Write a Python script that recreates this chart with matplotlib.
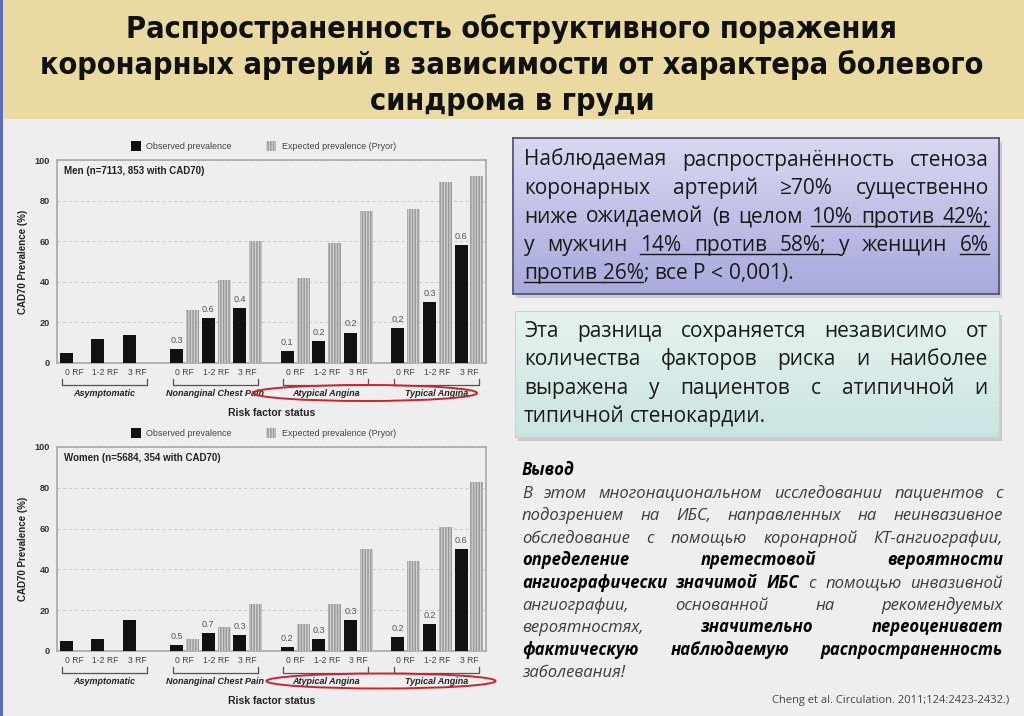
import matplotlib
matplotlib.use("Agg")
import matplotlib.pyplot as plt
from matplotlib import font_manager
from matplotlib.colors import to_rgb
from matplotlib.lines import Line2D
from matplotlib.patches import Rectangle, Ellipse, Patch
import numpy as np

W, H = 1024, 716
BG = "#eeeeee"

# --- chart data ---
groups = ["Asymptomatic", "Nonanginal Chest Pain", "Atypical Angina", "Typical Angina"]
rf_labels = ["0 RF", "1-2 RF", "3 RF"]

men_observed = [5, 12, 14, 7, 22, 27, 6, 11, 15, 17, 30, 58]
men_expected = [None, None, None, 26, 41, 60, 42, 59, 75, 76, 89, 92]
men_ratio = ["", "", "", "0.3", "0.6", "0.4", "0.1", "0.2", "0.2", "0.2", "0.3", "0.6"]

women_observed = [5, 6, 15, 3, 9, 8, 2, 6, 15, 7, 13, 50]
women_expected = [None, None, None, 6, 12, 23, 13, 23, 50, 44, 61, 83]
women_ratio = ["", "", "", "0.5", "0.7", "0.3", "0.2", "0.3", "0.3", "0.2", "0.2", "0.6"]

men_title = "Men (n=7113, 853 with CAD70)"
women_title = "Women (n=5684, 354 with CAD70)"

# --- slide text ---
title_lines = ["Распространенность обструктивного поражения",
               "коронарных артерий в зависимости от характера болевого",
               "синдрома в груди"]

# markup: _ underline, ~ underline the gap after, * bold, + join to previous word
box1_lines = ["Наблюдаемая распространённость стеноза",
              "коронарных артерий ≥70% существенно",
              "ниже ожидаемой (в целом _10%~ _против~ _42%;",
              "у мужчин _14%~ _против~ _58%;~ у женщин _6%",
              "_против~ _26% +; все P < 0,001)."]
box2_lines = ["Эта разница сохраняется независимо от",
              "количества факторов риска и наиболее",
              "выражена у пациентов с атипичной и",
              "типичной стенокардии."]
concl_head = "Вывод"
concl_lines = ["В этом многонациональном исследовании пациентов с",
               "подозрением на ИБС, направленных на неинвазивное",
               "обследование с помощью коронарной КТ-ангиографии,",
               "*определение *претестовой *вероятности",
               "*ангиографически *значимой *ИБС с помощью инвазивной",
               "ангиографии, основанной на рекомендуемых",
               "вероятностях, *значительно *переоценивает",
               "*фактическую *наблюдаемую *распространенность",
               "заболевания!"]
citation = "Cheng et al. Circulation. 2011;124:2423-2432.)"

# pick a narrow bold face for the title if the system has one
TITLE_FONT, TITLE_STRETCH = ["Liberation Sans"], "normal"
for f in font_manager.fontManager.ttflist:
    if f.name == "Liberation Sans Narrow":
        TITLE_FONT, TITLE_STRETCH = ["Liberation Sans Narrow"], "normal"
        break
    if f.name in ("DejaVu Sans", "Noto Sans", "Open Sans") and "condensed" in str(f.stretch) \
            and str(f.stretch) != "semi-condensed" and str(f.weight) in ("700", "bold"):
        TITLE_FONT, TITLE_STRETCH = [f.name], "condensed"

TEXT_FONT = ["Open Sans", "DejaVu Sans"]
plt.rcParams["font.family"] = ["Liberation Sans", "DejaVu Sans"]
plt.rcParams["hatch.linewidth"] = 1.1


def fx(px):
    return px / W


def fy(py):
    return 1 - py / H


fig = plt.figure(figsize=(W / 100, H / 100), dpi=100, facecolor=BG)
renderer = fig.canvas.get_renderer()

# title band and left stripe
fig.patches.append(Rectangle((0, fy(119)), 1, 119 / H, transform=fig.transFigure,
                             facecolor="#e9daa2", edgecolor="none", zorder=-2))
fig.patches.append(Rectangle((0, 0), 3 / W, 1, transform=fig.transFigure,
                             facecolor="#5b6abf", edgecolor="none", zorder=-2))

t = fig.text(0.5, 0.5, title_lines[1], fontsize=24, family=TITLE_FONT,
             fontstretch=TITLE_STRETCH, weight="bold")
tsize = min(25, 24 * 947 / t.get_window_extent(renderer).width)
t.remove()
for line, yc in zip(title_lines, [29, 65, 102]):
    fig.text(0.5, fy(yc), line, fontsize=tsize, family=TITLE_FONT, fontstretch=TITLE_STRETCH,
             weight="bold", ha="center", va="center", color="#111111")

OBS_COLOR = "#111111"
EXP_FACE, EXP_HATCH = "#d2d2d2", "#9a9a9a"


def draw_chart(ax, observed, expected, ratios, label):
    ax.set_facecolor(BG)
    xo = np.array([g * 3.5 + r for g in range(len(groups)) for r in range(len(rf_labels))])
    ax.bar(xo, observed, width=0.41, color=OBS_COLOR, zorder=3)
    idx = [i for i, v in enumerate(expected) if v is not None]
    ax.bar(xo[idx] + 0.5, [expected[i] for i in idx], width=0.41, facecolor=EXP_FACE,
           edgecolor=EXP_HATCH, hatch="||||||", linewidth=0, zorder=3)
    for i, r in enumerate(ratios):
        if r:
            ax.text(xo[i], observed[i] + 2, r, ha="center", va="bottom", fontsize=6.5, color="#555555")
    ax.set_xlim(-0.29, 13.29)
    ax.set_ylim(0, 100)
    ax.set_yticks(range(0, 101, 20))
    ax.set_xticks(xo + 0.25, rf_labels * len(groups))
    ax.tick_params(axis="y", length=0, pad=5, labelsize=6.6, labelcolor="#333333")
    ax.tick_params(axis="x", length=0, pad=3.5, labelsize=6.2, labelcolor="#444444")
    for lab in ax.get_yticklabels():
        lab.set_fontweight("bold")
    ax.yaxis.grid(True, ls=(0, (3, 3)), color="#c6c6c6", lw=0.7)
    ax.set_axisbelow(True)
    for s in ax.spines.values():
        s.set_color("#a8a8a8")
        s.set_linewidth(1.2)
    ax.set_ylabel("CAD70 Prevalence (%)", fontsize=7, fontweight="bold", color="#222222", labelpad=5)
    ax.text(0.016, 0.946, label, transform=ax.transAxes, fontsize=7, fontweight="bold",
            color="#222222", va="center", ha="left")

    trans = ax.get_xaxis_transform()
    for g, name in enumerate(groups):
        x0, x1 = g * 3.5 - 0.13, g * 3.5 + 2.56
        ax.plot([x0, x0, x1, x1], [-0.079, -0.108, -0.108, -0.079], transform=trans,
                clip_on=False, color="#555555", lw=0.9)
        ax.text((x0 + x1) / 2, -0.148, name, transform=trans, ha="center", va="center",
                fontsize=6.5, fontweight="bold", fontstyle="italic", color="#222222")
    ax.text(0.5, -0.246, "Risk factor status", transform=ax.transAxes, ha="center",
            va="center", fontsize=7.5, fontweight="bold", color="#222222")

    handles = [Patch(facecolor=OBS_COLOR),
               Patch(facecolor=EXP_FACE, edgecolor=EXP_HATCH, hatch="||||||", linewidth=0)]
    ax.legend(handles, ["Observed prevalence", "Expected prevalence (Pryor)"], ncol=2,
              loc="center", bbox_to_anchor=(0.481, 1.069), frameon=False, fontsize=6.5,
              handlelength=1.1, handleheight=1.4, handletextpad=0.6, columnspacing=3.8,
              labelcolor="#444444")


ax_men = fig.add_axes([fx(57), fy(363), (486 - 57) / W, (363 - 160) / H])
draw_chart(ax_men, men_observed, men_expected, men_ratio, men_title)
ax_women = fig.add_axes([fx(57), fy(651), (486 - 57) / W, (651 - 447) / H])
draw_chart(ax_women, women_observed, women_expected, women_ratio, women_title)

fig.patches.append(Ellipse((fx(365), fy(393)), 224 / W, 16 / H, transform=fig.transFigure,
                           fill=False, edgecolor="#c8262c", lw=1.4, zorder=5))
fig.patches.append(Ellipse((fx(381), fy(681)), 229 / W, 15 / H, transform=fig.transFigure,
                           fill=False, edgecolor="#c8262c", lw=1.4, zorder=5))


def gradient_box(x0, y0, x1, y1, top, bottom, edge, edge_lw):
    fig.patches.append(Rectangle((fx(x0 + 3), fy(y1 + 4)), (x1 - x0) / W, (y1 - y0) / H,
                                 transform=fig.transFigure, facecolor="#bdbdbd",
                                 edgecolor="none", alpha=0.7, zorder=-1))
    bx = fig.add_axes([fx(x0), fy(y1), (x1 - x0) / W, (y1 - y0) / H])
    c0, c1 = np.array(to_rgb(top)), np.array(to_rgb(bottom))
    grad = np.linspace(0, 1, 64)[:, None, None]
    bx.imshow(c0 + (c1 - c0) * grad, aspect="auto", extent=[0, 1, 0, 1], origin="upper")
    bx.set_xticks([])
    bx.set_yticks([])
    for s in bx.spines.values():
        s.set_color(edge)
        s.set_linewidth(edge_lw)


def parse(line):
    out = []
    for w in line.split():
        flags = ""
        while w[0] in "_*+":
            flags += {"_": "u", "*": "b", "+": "j"}[w[0]]
            w = w[1:]
        if w.endswith("~"):
            flags += "g"
            w = w[:-1]
        out.append((w, flags))
    return out


def place_lines(lines, x0, x1, base0, step, size, italic=False, color="#1a1a1a",
                bold_color="#000000"):
    style = "italic" if italic else "normal"
    a = fig.text(0, 0, "н н", fontsize=size, family=TEXT_FONT, style=style)
    b = fig.text(0, 0, "нн", fontsize=size, family=TEXT_FONT, style=style)
    space = a.get_window_extent(renderer).width - b.get_window_extent(renderer).width
    a.remove()
    b.remove()
    for k, line in enumerate(lines):
        tokens = parse(line)
        yb = base0 + k * step
        arts, widths = [], []
        for word, flags in tokens:
            bold = "b" in flags
            t = fig.text(0, fy(yb), word, fontsize=size, family=TEXT_FONT, style=style,
                         weight="bold" if bold else "normal",
                         color=bold_color if bold else color, va="baseline", ha="left")
            arts.append(t)
            widths.append(t.get_window_extent(renderer).width)
        n_gaps = sum(1 for _, f in tokens[1:] if "j" not in f)
        if k == len(lines) - 1 or n_gaps == 0:
            gap = space
        else:
            gap = (x1 - x0 - sum(widths)) / n_gaps
        x = x0
        for i, ((word, flags), t, w) in enumerate(zip(tokens, arts, widths)):
            if i > 0 and "j" not in flags:
                x += gap
            t.set_x(fx(x))
            if "u" in flags:
                end = x + w + (gap if "g" in flags else 0)
                fig.lines.append(Line2D([fx(x), fx(end)], [fy(yb + 3)] * 2,
                                        transform=fig.transFigure, color=color, lw=1))
            x += w


gradient_box(513, 138, 999, 294, "#d8d8f1", "#a9a9dd", "#55557a", 1.3)
place_lines(box1_lines, 524, 989, 166, 28.3, 15)

gradient_box(515, 311, 999, 437, "#e6f2f0", "#c9e4e0", "#c4d6d4", 0.8)
place_lines(box2_lines, 524, 988, 337, 28.3, 15)

fig.text(fx(522), fy(475), concl_head, fontsize=12, family=TEXT_FONT, style="italic",
         weight="bold", color="#000000", va="baseline")
place_lines(concl_lines, 522, 1003, 498, 22.4, 12, italic=True, color="#3c3c3c")

fig.text(fx(1009), fy(703), citation, fontsize=8, family=TEXT_FONT, color="#444444",
         ha="right", va="baseline")

fig.savefig("out.png", dpi=100, facecolor=BG)
